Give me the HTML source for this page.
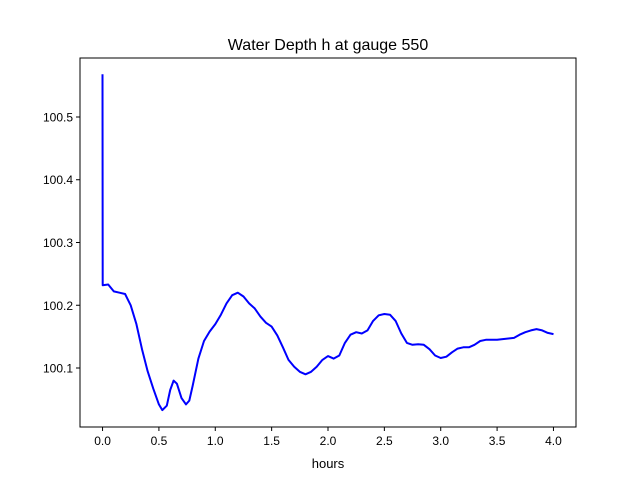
<!DOCTYPE html>
<html><head><meta charset="utf-8"><style>
body{margin:0;background:#fff;}
svg{display:block;font-family:"Liberation Sans","DejaVu Sans",sans-serif;}
</style></head><body>
<svg id="chart" width="640" height="480">
<rect x="0" y="0" width="640" height="480" fill="#fff"/>
<text x="328" y="50" font-size="16" text-anchor="middle">Water Depth h at gauge 550</text>
<g id="xticks"></g><g id="yticks"></g>
<path id="line" fill="none" stroke="#0000ff" stroke-width="2" stroke-linejoin="round"/>
<rect x="80" y="58" width="496" height="369" fill="none" stroke="#000" stroke-width="1"/>
<text x="328" y="468" font-size="13" text-anchor="middle">hours</text>
</svg>
<script>
const hours=[0,0.001,0.05,0.1,0.15,0.2,0.25,0.3,0.35,0.4,0.45,0.5,0.53,0.57,0.6,0.63,0.66,0.7,0.74,0.77,0.8,0.85,0.9,0.95,1.0,1.05,1.1,1.15,1.2,1.25,1.3,1.35,1.4,1.45,1.5,1.55,1.6,1.65,1.7,1.75,1.8,1.85,1.9,1.95,2.0,2.05,2.1,2.15,2.2,2.25,2.3,2.35,2.4,2.45,2.5,2.55,2.6,2.65,2.7,2.75,2.8,2.85,2.9,2.95,3.0,3.05,3.1,3.15,3.2,3.25,3.3,3.35,3.4,3.45,3.5,3.55,3.6,3.65,3.7,3.75,3.8,3.85,3.9,3.95,4.0];
const depth=[100.568,100.232,100.233,100.222,100.220,100.218,100.200,100.170,100.130,100.095,100.067,100.042,100.033,100.040,100.065,100.080,100.075,100.052,100.042,100.048,100.072,100.115,100.143,100.158,100.170,100.185,100.203,100.216,100.220,100.214,100.203,100.195,100.182,100.172,100.166,100.152,100.133,100.113,100.102,100.094,100.090,100.094,100.102,100.113,100.119,100.115,100.120,100.140,100.153,100.157,100.155,100.160,100.175,100.184,100.186,100.185,100.175,100.155,100.140,100.137,100.138,100.137,100.130,100.120,100.116,100.118,100.125,100.131,100.133,100.133,100.137,100.143,100.145,100.145,100.145,100.146,100.147,100.148,100.153,100.157,100.160,100.162,100.160,100.156,100.154];
const xTickLabels=["0.0","0.5","1.0","1.5","2.0","2.5","3.0","3.5","4.0"];
const yTickLabels=["100.1","100.2","100.3","100.4","100.5"];
const X0=80,X1=576,Y0=58,Y1=427,xmin=-0.2,xmax=4.2,ymin=100.006,ymax=100.594;
const sx=v=>X0+(v-xmin)/(xmax-xmin)*(X1-X0);
const sy=v=>Y1-(v-ymin)/(ymax-ymin)*(Y1-Y0);
const NS="http://www.w3.org/2000/svg";
function mk(t,a){const e=document.createElementNS(NS,t);for(const k in a)e.setAttribute(k,a[k]);return e;}
let d="";hours.forEach((h,i)=>{d+=(i?"L":"M")+sx(h).toFixed(1)+","+sy(depth[i]).toFixed(1);});
document.getElementById("line").setAttribute("d",d);
const xg=document.getElementById("xticks"),yg=document.getElementById("yticks");
xTickLabels.forEach(l=>{const x=sx(parseFloat(l));
const t=mk("line",{x1:x,x2:x,y1:Y1,y2:Y1+4,stroke:"#000"});


xg.appendChild(t);
const s=mk("text",{x:x,y:Y1+18,"font-size":"12","text-anchor":"middle"});s.textContent=l;


xg.appendChild(s);});
yTickLabels.forEach(l=>{const y=sy(parseFloat(l));
const t=mk("line",{x1:X0-4,x2:X0,y1:y,y2:y,stroke:"#000"});


yg.appendChild(t);
const s=mk("text",{x:X0-7,y:y+4.5,"font-size":"12","text-anchor":"end"});s.textContent=l;


yg.appendChild(s);});
</script>
</body></html>
